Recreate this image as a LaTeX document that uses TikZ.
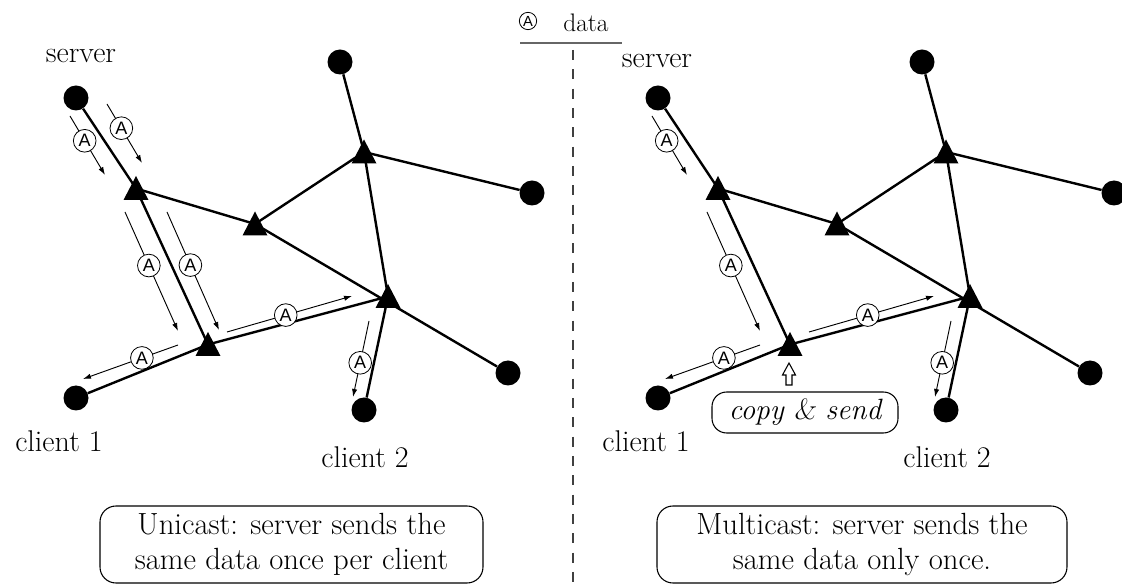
\documentclass[tikz,border=0pt]{standalone}
\usepackage{fontspec}
\newfontfamily\markfont{Liberation Sans}
\usetikzlibrary{arrows.meta}

\tikzset{
  host/.style={circle, fill=black, minimum size=18.75pt, inner sep=0pt},
  link/.style={line width=1.8pt},
  flow/.style={line width=0.7pt, -{Latex[length=6pt,width=4pt]}},
  pkt/.style={circle, draw, line width=0.6pt, fill=white, inner sep=0pt,
    minimum size=17pt, font=\markfont\fontsize{13.5}{13.5}\selectfont},
  lbl/.style={font=\fontsize{22.5}{26}\selectfont, anchor=base, inner sep=0pt},
  note/.style={draw, line width=0.8pt, rounded corners=12pt, align=center,
    inner sep=0pt, font=\fontsize{23}{26.25}\selectfont},
  divider/.style={line width=0.8pt, black!75, dash pattern=on 7.5pt off 7pt},
  keyrule/.style={line width=0.9pt, black!60},
  hollow/.style={draw, line width=0.8pt, fill=white, line join=miter},
}

% filled triangle marking a router, centred on a coordinate
\newcommand\routertri[1]{\fill (#1) ++(0,-12.5) -- ++(12.5,24) -- ++(-25,0) -- cycle;}

\begin{document}
\begin{tikzpicture}[x=0.75pt, y=-0.75pt]
\useasboundingbox (0,0) rectangle (1122,584);

% the same network, drawn twice
\foreach \s/\dx in {L/0,R/582}{
\begin{scope}[xshift=\dx*0.75pt]
  \node[host] (\s-srv) at (76,98) {};
  \node[host] (\s-top) at (340,62) {};
  \node[host] (\s-rc)  at (532,193) {};
  \node[host] (\s-lc)  at (508,373) {};
  \node[host] (\s-c1)  at (76,398) {};
  \node[host] (\s-c2)  at (364,410) {};
  \coordinate (\s-t1) at (136,188.5);
  \coordinate (\s-t2) at (255,224);
  \coordinate (\s-t3) at (364,152);
  \coordinate (\s-t4) at (208,344.5);
  \coordinate (\s-t5) at (388,296.5);

  \draw[link] (\s-srv) -- (\s-t1) -- (\s-t2) -- (\s-t3) -- (\s-top);
  \draw[link] (\s-t3) -- (\s-rc);
  \draw[link] (\s-t3) -- (\s-t5) -- (\s-c2);
  \draw[link] (\s-t2) -- (\s-lc);
  \draw[link] (\s-t1) -- (\s-t4) -- (\s-t5);
  \draw[link] (\s-t4) -- (\s-c1);

  \routertri{\s-t1}
  \routertri{\s-t2}
  \routertri{\s-t3}
  \routertri{\s-t4}
  \routertri{\s-t5}

  % data flows present on both sides
  \coordinate (\s-a1s) at (70,116);  \coordinate (\s-a1e) at (105,175);
  \coordinate (\s-a3s) at (125,212); \coordinate (\s-a3e) at (178,331);
  \coordinate (\s-a5s) at (227,332); \coordinate (\s-a5e) at (352,296);
  \coordinate (\s-a6s) at (178,345); \coordinate (\s-a6e) at (83,379);
  \coordinate (\s-a7s) at (369,321); \coordinate (\s-a7e) at (353,397);
  \draw[flow] (\s-a1s) -- node[pkt, pos=0.42] (\s-p1) {A} (\s-a1e);
  \draw[flow] (\s-a3s) -- node[pkt, pos=0.45] (\s-p3) {A} (\s-a3e);
  \draw[flow] (\s-a5s) -- node[pkt, pos=0.47] (\s-p5) {A} (\s-a5e);
  \draw[flow] (\s-a6s) -- node[pkt, pos=0.38] (\s-p6) {A} (\s-a6e);
  \draw[flow] (\s-a7s) -- node[pkt, pos=0.55] (\s-p7) {A} (\s-a7e);
\end{scope}
}

% extra copies sent by the unicast server
\coordinate (L-a2s) at (107,104); \coordinate (L-a2e) at (142,163);
\coordinate (L-a4s) at (167,212); \coordinate (L-a4e) at (219,330);
\draw[flow] (L-a2s) -- node[pkt, pos=0.41] (L-p2) {A} (L-a2e);
\draw[flow] (L-a4s) -- node[pkt, pos=0.45] (L-p4) {A} (L-a4e);

% host labels
\node[lbl] (L-srvlbl) at (81,63)  {server};
\node[lbl] (R-srvlbl) at (657,68) {server};
\node[lbl] (L-c1lbl)  at (59,452)  {client 1};
\node[lbl] (R-c1lbl)  at (646,452) {client 1};
\node[lbl] (L-c2lbl)  at (365,468) {client 2};
\node[lbl] (R-c2lbl)  at (947,468) {client 2};

% router that duplicates the packet
\node[note, rounded corners=11pt, minimum width=139.5pt, minimum height=30.75pt,
      font=\itshape\fontsize{22}{26}\selectfont] (cs) at (805,412.5)
      {copy {\fontshape{sl}\selectfont\&} send};
\coordinate (ua) at (789,385);
\draw[hollow] (ua) ++(-3,0) -- ++(0,-10) -- ++(-3.5,0) -- ++(6.5,-12)
  -- ++(6.5,12) -- ++(-3.5,0) -- ++(0,10) -- cycle;

% captions
\node[note, minimum width=287.25pt, minimum height=57.75pt] (L-cap) at (291.5,544.5)
  {Unicast: server sends the\\same data once per client};
\node[note, minimum width=307.5pt, minimum height=57.75pt] (R-cap) at (862,544.5)
  {Multicast: server sends the\\same data only once.};

% legend and separator
\node[pkt, minimum size=13pt, font=\markfont\fontsize{11}{11}\selectfont] (key) at (528,21) {A};
\node[lbl, font=\fontsize{19}{22}\selectfont] (keytxt) at (586,32) {data};
\coordinate (kl) at (520,43);
\coordinate (kr) at (622,43);
\draw[keyrule] (kl) -- (kr);
\coordinate (sepT) at (573,50);
\coordinate (sepB) at (573,584);
\draw[divider] (sepT) -- (sepB);
\end{tikzpicture}
\end{document}
